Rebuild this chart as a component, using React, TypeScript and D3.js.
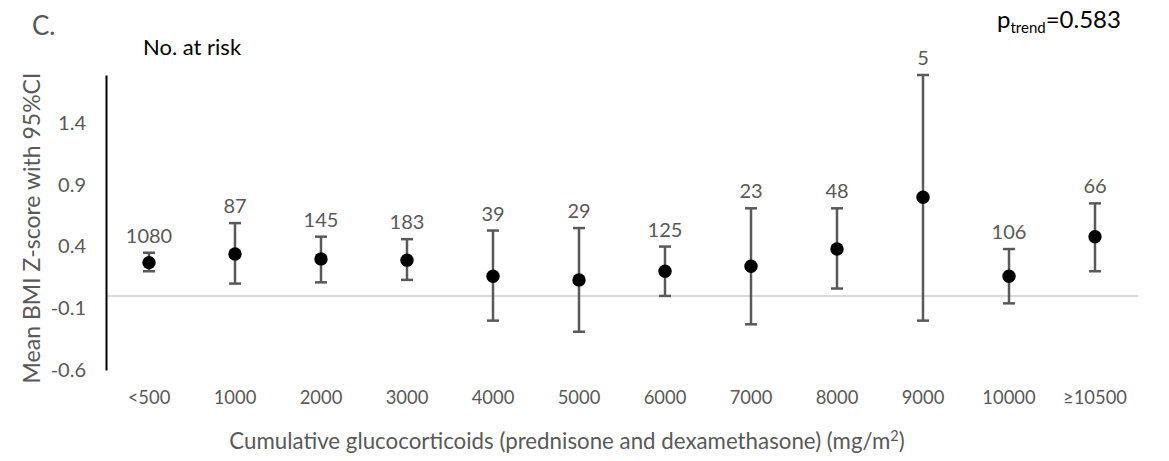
import React, { useEffect, useRef } from "react";
import * as d3 from "d3";

// Cumulative glucocorticoid dose groups (mg/m²)
const categories = ["<500", "1000", "2000", "3000", "4000", "5000", "6000", "7000", "8000", "9000", "10000", "≥10500"];
// Mean BMI Z-score per group and its 95% confidence interval
const meanZ = [0.27, 0.34, 0.3, 0.29, 0.16, 0.13, 0.2, 0.24, 0.38, 0.8, 0.16, 0.48];
const ciLower = [0.2, 0.1, 0.11, 0.13, -0.2, -0.29, 0.0, -0.23, 0.06, -0.2, -0.06, 0.2];
const ciUpper = [0.35, 0.59, 0.48, 0.46, 0.53, 0.55, 0.4, 0.71, 0.71, 1.79, 0.38, 0.75];
// Number at risk in each group
const atRisk = [1080, 87, 145, 183, 39, 29, 125, 23, 48, 5, 106, 66];
const yTicks = [-0.6, -0.1, 0.4, 0.9, 1.4];

const W = 1169;
const H = 461;
const FONT = "Lato, 'Open Sans', sans-serif";
const GREY = "#595959";

export default function App() {
  const yAxisRef = useRef<SVGGElement>(null);
  const xAxisRef = useRef<SVGGElement>(null);

  const x = d3.scaleBand<string>().domain(categories).range([106, 1138]).padding(0);
  const y = d3.scaleLinear().domain([-0.6, 1.79]).range([370, 75]);

  useEffect(() => {
    if (yAxisRef.current) {
      const g = d3.select(yAxisRef.current);
      g.call(
        d3
          .axisLeft(y)
          .tickValues(yTicks)
          .tickSize(0)
          .tickSizeOuter(0)
          .tickPadding(20)
          .tickFormat((d) => String(d))
      );
      g.select(".domain").attr("stroke", "#000").attr("stroke-width", 2);
      g.selectAll("text")
        .attr("fill", GREY)
        .attr("font-size", 20)
        .attr("font-family", FONT);
    }
    if (xAxisRef.current) {
      const g = d3.select(xAxisRef.current);
      g.call(d3.axisBottom(x).tickSize(0).tickPadding(20));
      g.select(".domain").remove();
      g.selectAll("text")
        .attr("fill", GREY)
        .attr("font-size", 20)
        .attr("font-family", FONT)
        .attr("transform", "scale(0.92,1)");
    }
  }, []);

  const cx = (c: string) => (x(c) ?? 0) + x.bandwidth() / 2;
  const capHalf = 6;

  return (
    <svg
      width={W}
      height={H}
      style={{ position: "absolute", left: 0, top: 0, background: "#fff" }}
      fontFamily={FONT}
    >
      <rect width={W} height={H} fill="#fff" />
      {/* zero reference line */}
      <line x1={106} x2={1138} y1={y(0)} y2={y(0)} stroke="#d9d9d9" strokeWidth={2} />

      <g ref={yAxisRef} transform="translate(106,0)" />
      <g ref={xAxisRef} transform="translate(0,370)" />

      {/* confidence intervals */}
      {categories.map((c, i) => (
        <g key={c} stroke={GREY} strokeWidth={2.5}>
          <line x1={cx(c)} x2={cx(c)} y1={y(ciLower[i])} y2={y(ciUpper[i])} />
          <line x1={cx(c) - capHalf} x2={cx(c) + capHalf} y1={y(ciUpper[i])} y2={y(ciUpper[i])} />
          <line x1={cx(c) - capHalf} x2={cx(c) + capHalf} y1={y(ciLower[i])} y2={y(ciLower[i])} />
        </g>
      ))}

      {/* means */}
      {categories.map((c, i) => (
        <circle key={c} cx={cx(c)} cy={y(meanZ[i])} r={6.7} fill="#000" />
      ))}

      {/* numbers at risk */}
      {categories.map((c, i) => (
        <text
          key={c}
          x={cx(c)}
          y={y(ciUpper[i]) - 10}
          textAnchor="middle"
          fill={GREY}
          fontSize={20}
        >
          {atRisk[i]}
        </text>
      ))}

      <text x={32} y={35} fill={GREY} fontSize={26}>
        C.
      </text>
      <text x={143} y={55} fill="#000" fontSize={22}>
        No. at risk
      </text>
      <text x={997} y={28} fill="#000" fontSize={24}>
        p<tspan fontSize={15} dy={5}>trend</tspan>
        <tspan dy={-5}>=0.583</tspan>
      </text>

      <text
        transform="translate(40,228) rotate(-90)"
        textAnchor="middle"
        fill={GREY}
        fontSize={23}
      >
        Mean BMI Z-score with 95%CI
      </text>

      <text
        transform="translate(567,449) scale(0.97,1)"
        textAnchor="middle"
        fill={GREY}
        fontSize={23}
      >
        Cumulative glucocorticoids (prednisone and dexamethasone) (mg/m
        <tspan fontSize={15} dy={-8}>2</tspan>
        <tspan dy={8}>)</tspan>
      </text>
    </svg>
  );
}
